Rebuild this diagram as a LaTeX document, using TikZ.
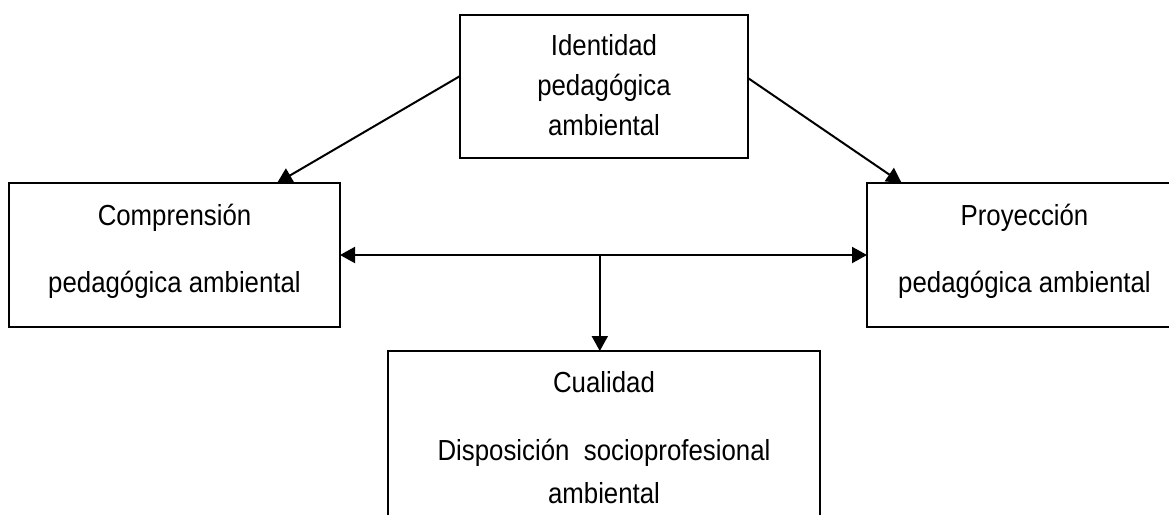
\documentclass[tikz,border=0pt]{standalone}
\usepackage{fontspec}
\setmainfont{Liberation Sans}[FakeStretch=0.89]
\usetikzlibrary{arrows.meta,fit,calc}
\begin{document}
\begin{tikzpicture}[x=0.75pt,y=-0.75pt,
  box/.style={draw, line width=1.5pt, inner sep=0pt, outer sep=0pt},
  txt/.style={anchor=base, inner sep=0pt, font=\fontsize{21.75}{30}\selectfont},
  conn/.style={line width=1.5pt, -{Triangle[length=11.25pt,width=12pt]}},
  dconn/.style={line width=1.5pt, {Triangle[length=11.25pt,width=12pt]}-{Triangle[length=11.25pt,width=12pt]}},
]
\useasboundingbox (0,0) rectangle (1169,514);
\clip (0,0) rectangle (1169,514);
\fill[white] (0,0) rectangle (1169,514);
% boxes
\node[box, fit={(460,15) (748,158)}] (top) {};
\node[box, fit={(9,183) (340,327)}] (left) {};
\node[box, fit={(867,183) (1182,327)}] (right) {};
\node[box, fit={(388,351) (820,545)}] (bottom) {};
% texts
\node[txt] (t1) at (604,55) {Identidad};
\node[txt] (t2) at (604,95) {pedagógica};
\node[txt] (t3) at (604,135) {ambiental};
\node[txt] (l1) at (174.5,225) {Comprensión};
\node[txt] (l2) at (174.5,292) {pedagógica ambiental};
\node[txt] (r1) at (1024.5,225) {Proyección};
\node[txt] (r2) at (1024.5,292) {pedagógica ambiental};
\node[txt] (b1) at (604,392) {Cualidad};
\node[txt] (b2) at (604,460) {Disposición\ \ socioprofesional};
\node[txt] (b3) at (604,503) {ambiental};
% connectors
\draw[conn] ($(top.north west)!0.427!(top.south west)$) -- ($(left.north west)!0.81!(left.north east)$);
\draw[conn] ($(top.north east)!0.441!(top.south east)$) -- ($(right.north west)!0.11!(right.north east)$);
\draw[dconn] (left.east) -- (right.west);
\coordinate (mid) at ($(left.east)!0.493!(right.west)$);
\draw[conn] (mid) -- (mid |- bottom.north);
\end{tikzpicture}
\end{document}
